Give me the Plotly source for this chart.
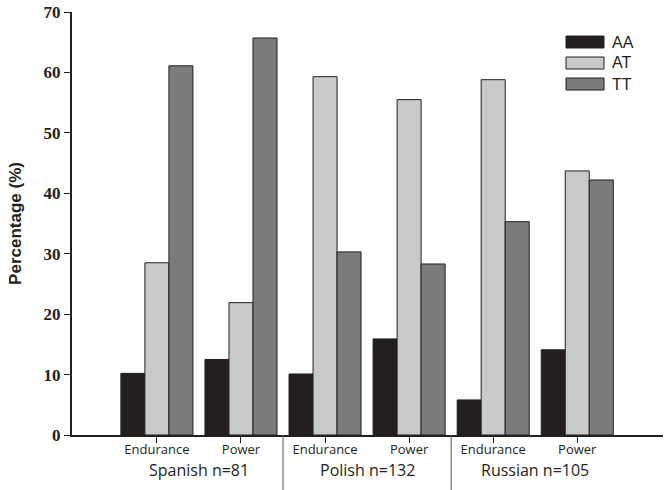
import plotly.graph_objects as go

# ---- data ----
groups = ["Spanish n=81", "Polish n=132", "Russian n=105"]
subcats = ["Endurance", "Power", "Endurance", "Power", "Endurance", "Power"]
genotypes = ["AA", "AT", "TT"]
aa_values = [10.2, 12.5, 10.1, 15.9, 5.8, 14.1]
at_values = [28.5, 21.9, 59.3, 55.5, 58.8, 43.7]
tt_values = [61.1, 65.7, 30.3, 28.3, 35.3, 42.2]
y_ticks = [0, 10, 20, 30, 40, 50, 60, 70]

series = [aa_values, at_values, tt_values]
colors = ["#231f20", "#c8c9cb", "#7a7b7d"]

x_pos = list(range(len(subcats)))

fig = go.Figure()
for name, vals, col in zip(genotypes, series, colors):
    fig.add_trace(go.Bar(
        x=x_pos, y=vals, name=name,
        marker=dict(color=col, line=dict(color="#231f20", width=1)),
        showlegend=False,
    ))

W, H = 669, 490
L, R, T, B = 72, 6, 12, 55
pw, ph = W - L - R, H - T - B
base = 435  # screen y of the x axis

fig.update_layout(
    width=W, height=H,
    margin=dict(l=L, r=R, t=T, b=B),
    paper_bgcolor="white", plot_bgcolor="white",
    barmode="group", bargap=0.143, bargroupgap=0,
    xaxis=dict(
        range=[-1.01, 6.02], automargin=False,
        tickmode="array", tickvals=x_pos, ticktext=subcats,
        showline=True, linecolor="#231f20", linewidth=2,
        ticks="outside", ticklen=6, tickwidth=1, tickcolor="#231f20",
        ticklabelstandoff=-5, ticklabeloverflow="allow",
        tickfont=dict(family="Open Sans, Liberation Sans, sans-serif", size=13, color="#231f20"),
        showgrid=False, zeroline=False,
    ),
    yaxis=dict(
        range=[0, 70], automargin=False,
        tickmode="array", tickvals=y_ticks,
        ticktext=[f"<b>{v}</b>" for v in y_ticks],
        ticklabeloverflow="allow",
        showline=True, linecolor="#231f20", linewidth=2,
        ticks="outside", ticklen=6, tickwidth=1, tickcolor="#231f20",
        tickfont=dict(family="Liberation Serif, Times New Roman, serif", size=17, color="#231f20"),
        showgrid=False, zeroline=False,
        title=dict(text="<b>Percentage (%)</b>",
                   font=dict(family="Liberation Sans, Arial, sans-serif", size=17, color="#231f20"),
                   standoff=18),
    ),
)

# group labels and separators
for i, g in enumerate(groups):
    fig.add_annotation(
        x=2 * i + 0.5, xref="x", y=-(470 - base) / ph, yref="paper",
        text=g, showarrow=False, yanchor="middle",
        font=dict(family="Open Sans, Liberation Sans, sans-serif", size=16, color="#231f20"),
    )
for i in range(len(groups) - 1):
    fig.add_shape(
        type="line", xref="x", yref="paper",
        x0=2 * i + 1.5, x1=2 * i + 1.5, y0=0, y1=-B / ph,
        line=dict(color="#555555", width=1),
    )

# custom legend (screen coordinates converted to paper)
def px_x(x):
    return (x - L) / pw

def px_y(y):
    return 1 - (y - T) / ph

for k, (name, col) in enumerate(zip(genotypes, colors)):
    yc = 42 + 21 * k
    fig.add_shape(type="rect", xref="paper", yref="paper",
                  x0=px_x(566), x1=px_x(604), y0=px_y(yc + 6), y1=px_y(yc - 6),
                  fillcolor=col, line=dict(color="#231f20", width=1))
    fig.add_annotation(xref="paper", yref="paper",
                       x=px_x(610), y=px_y(yc),
                       text=name, showarrow=False, xanchor="left", yanchor="middle",
                       font=dict(family="Liberation Sans, Arial, sans-serif", size=16, color="#231f20"))

fig.write_html("out.html",
               config={"displayModeBar": False},
               post_script="document.body.style.margin='0';document.body.style.overflow='hidden';")
